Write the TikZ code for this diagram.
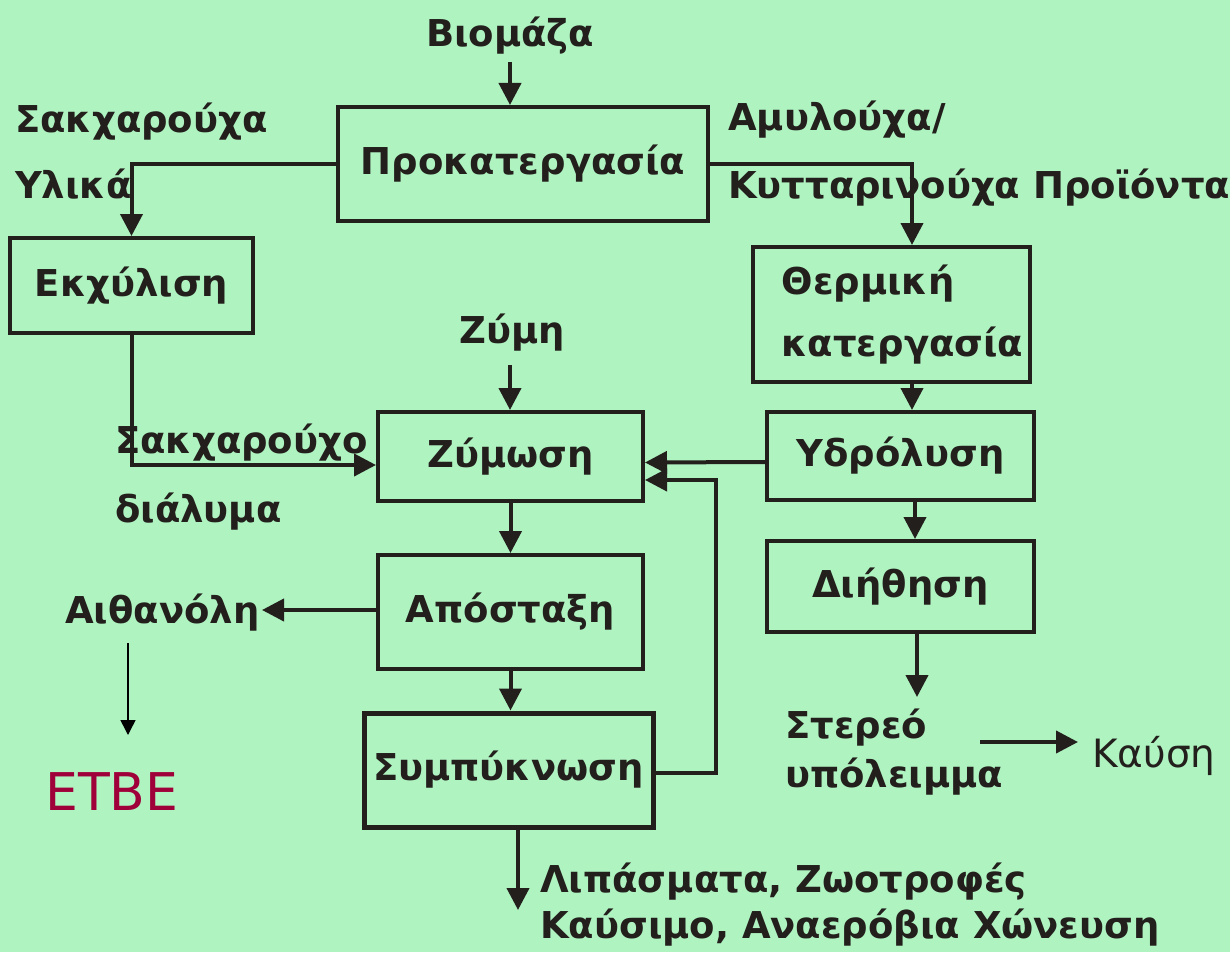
\documentclass[tikz,border=0pt]{standalone}
\usepackage{fontspec}
\setmainfont{DejaVu Sans}
\usetikzlibrary{arrows.meta,calc}
\definecolor{bg}{RGB}{175,243,193}
\definecolor{ink}{RGB}{35,31,28}
\definecolor{etbecol}{RGB}{160,0,58}
\begin{document}
\begin{tikzpicture}[x=1pt,y=-1pt,
  box/.style={draw=ink,line width=4pt,inner sep=0pt,text=ink,font=\bfseries\fontsize{37}{62}\selectfont},
  lbl/.style={font=\bfseries\fontsize{37}{44}\selectfont,text=ink,inner sep=0pt},
  conn/.style={draw=ink,line width=4pt,-{Triangle[length=22pt,width=22pt]}},
  thinconn/.style={draw=black,line width=1.5pt,-{Triangle[length=15pt,width=15pt]}}]
\fill[bg] (0,0) rectangle (1230,952);
\useasboundingbox (0,0) rectangle (1230,952);
% boxes
\node[box,minimum width=370pt,minimum height=114pt] (prok) at (523,164) {Προκατεργασία};
\node[box,minimum width=243pt,minimum height=95pt] (ekx) at (131.5,285.5) {Εκχύλιση};
\node[box,minimum width=277pt,minimum height=135pt,align=left] (therm) at (891.5,314.5) {\hspace*{22pt}Θερμική\\\hspace*{22pt}κατεργασία};
\node[box,minimum width=265pt,minimum height=89pt] (zym) at (510.5,456.5) {Ζύμωση};
\node[box,minimum width=267pt,minimum height=88pt] (ydr) at (900.5,456) {Υδρόλυση};
\node[box,minimum width=267pt,minimum height=91pt] (dii) at (900.5,586.5) {Διήθηση};
\node[box,minimum width=265pt,minimum height=114pt] (apo) at (510.5,612) {Απόσταξη};
\node[box,line width=5pt,minimum width=289pt,minimum height=114pt] (sym) at (508.5,770) {Συμπύκνωση};
% labels
\node[lbl,anchor=base] (biom) at (510,47) {Βιομάζα};
\node[lbl,anchor=base west] (sak1) at (15,133) {Σακχαρούχα};
\node[lbl,anchor=base west] (ylik) at (15,198) {Υλικά};
\node[lbl,anchor=base west] (amyl) at (728,131) {Αμυλούχα/};
\node[lbl,anchor=base west] (kytt) at (728,198) {Κυτταρινούχα Προϊόντα};
\node[lbl,anchor=base] (zymi) at (512,343) {Ζύμη};
\node[lbl,anchor=base west] (sakch) at (115,453) {Σακχαρούχο};
\node[lbl,anchor=base west] (dial) at (115,522) {διάλυμα};
\node[lbl,anchor=base west] (aith) at (65,623) {Αιθανόλη};
\node[inner sep=0pt,anchor=base west,text=etbecol,font=\fontsize{52}{60}\selectfont] (etbe) at (45,810) {ETBE};
\node[lbl,anchor=base west] (ster) at (785,738) {Στερεό};
\node[lbl,anchor=base west] (ypol) at (785,787) {υπόλειμμα};
\node[inner sep=0pt,anchor=base west,text=ink,font=\fontsize{39}{46}\selectfont] (kafsi) at (1092,767) {Καύση};
\node[lbl,anchor=base west] (lip) at (540,892) {Λιπάσματα, Ζωοτροφές};
\node[lbl,anchor=base west] (kaus) at (540,938) {Καύσιμο, Αναερόβια Χώνευση};
% free-end coordinates
\coordinate (biomA) at (510,62);
\coordinate (zymiA) at (510,365);
\coordinate (fb) at (716,480);
\coordinate (stt) at (917,697);
\coordinate (skA) at (980,742);
\coordinate (skB) at (1078,742);
\coordinate (apoW) at (378,610);
\coordinate (aithT) at (262,610);
\coordinate (aithA) at (128,643);
\coordinate (etbeA) at (128,735);
\coordinate (lipA) at (518,910);
% connectors
\draw[conn] (biomA) -- (biomA |- prok.north);
\draw[conn] (prok.west) -| (ekx.north);
\draw[conn] ([xshift=-3pt]prok.east) -| ([xshift=20.5pt]therm.north);
\draw[conn] (ekx.south) |- ([yshift=-8.5pt]zym.west);
\draw[conn] (zymiA) -- (zymiA |- zym.north);
\draw[conn] ([xshift=20.5pt]therm.south) -- ([xshift=11.5pt]ydr.north);
\draw[conn] ([yshift=-6pt]ydr.west) -- ([yshift=-6pt]zym.east);
\draw[conn] ([yshift=-3pt]sym.east) -| (fb) -- (fb -| zym.east);
\draw[conn] ([xshift=14.5pt]ydr.south) -- ([xshift=14.5pt]dii.north);
\draw[conn] ([xshift=16.5pt]dii.south) -- (stt);
\draw[conn] (skA) -- (skB);
\draw[conn] (zym.south) -- (apo.north);
\draw[conn] (apoW) -- (aithT);
\draw[thinconn] (aithA) -- (etbeA);
\draw[conn] (apo.south) -- (apo.south |- sym.north);
\draw[conn] ([xshift=9.5pt]sym.south) -- (lipA);
\end{tikzpicture}
\end{document}
